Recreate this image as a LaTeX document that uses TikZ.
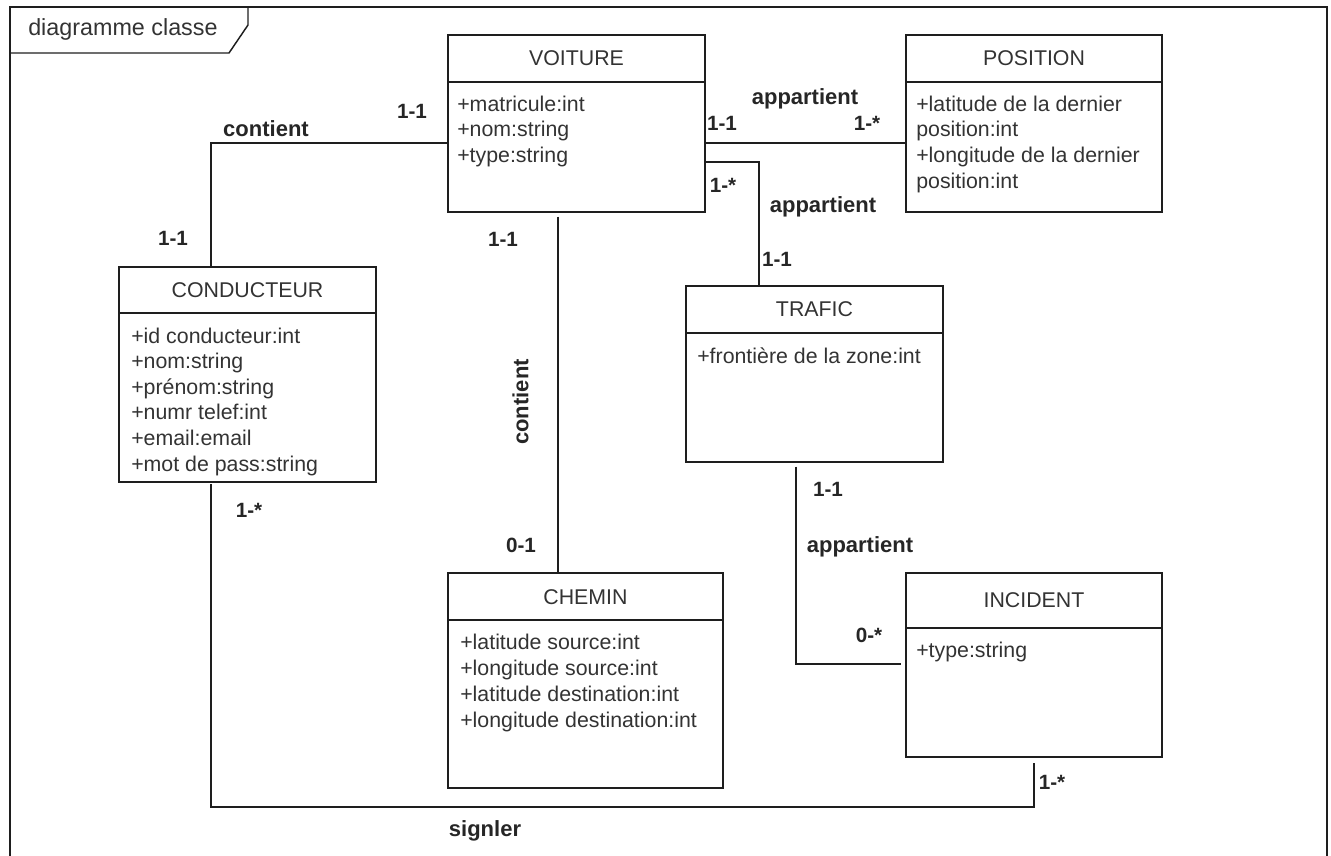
\documentclass[tikz,border=0pt]{standalone}
\usepackage{fontspec}
\setmainfont{Liberation Sans}
\usetikzlibrary{fit}

\definecolor{umlgray}{RGB}{51,51,51}
\definecolor{umlline}{RGB}{30,30,30}
\newcommand{\clsfont}{\fontsize{16}{19}\selectfont}
\newcommand{\lblfont}{\fontsize{16.5}{19}\selectfont\bfseries}
\newcommand{\mulfont}{\fontsize{15.5}{18}\selectfont\bfseries}

\tikzset{
  classbox/.style={draw=umlline, line width=1.1pt, inner sep=0pt},
  classline/.style={draw=umlline, line width=1.1pt},
  assoc/.style={draw=umlline, line width=1.1pt},
  clsname/.style={anchor=center, inner sep=0pt, text height=11.5pt, text depth=0pt, font=\clsfont, text=umlgray},
  attr/.style={anchor=west, inner sep=0pt, text height=11pt, text depth=3.5pt, font=\clsfont, text=umlgray},
  rolename/.style={anchor=center, inner sep=0pt, text height=11.5pt, text depth=3.5pt, font=\lblfont, text=black!85},
  mult/.style={anchor=center, inner sep=0pt, text height=11pt, text depth=0pt, font=\mulfont, text=black!85},
}

\begin{document}
\begin{tikzpicture}[x=0.75pt,y=0.75pt,yscale=-1,xscale=1]
\useasboundingbox (0,0) rectangle (1331,856);

%Frame
\draw [classline] (10,860) -- (10,7) -- (1327,7) -- (1327,860) ;
\draw [classline] (10,53) -- (229,53) -- (248,25) -- (248,7) ;
% Text Node
\draw (27,29) node [anchor=west][inner sep=0.75pt] (frametitle) {\fontsize{17.5}{20}\selectfont\color{umlgray}diagramme classe};

%Class: VOITURE
\node [classbox, fit={(448,35) (705,212)}] (voiture) {};
\draw [classline] (448,82) -- (705,82) ;
\draw (576.5,58) node [clsname] (v-name) {VOITURE};
\draw (457,107) node [attr] (v-a1) {+matricule:int};
\draw (457,132) node [attr] (v-a2) {+nom:string};
\draw (457,157) node [attr] (v-a3) {+type:string};

%Class: POSITION
\node [classbox, fit={(906,35) (1162,212)}] (position) {};
\draw [classline] (906,82) -- (1162,82) ;
\draw (1034,58) node [clsname] (p-name) {POSITION};
\draw (916,106) node [attr] (p-a1) {+latitude de la dernier};
\draw (916,132) node [attr] (p-a2) {position:int};
\draw (916,157) node [attr] (p-a3) {+longitude de la dernier};
\draw (916,183) node [attr] (p-a4) {position:int};

%Class: CONDUCTEUR
\node [classbox, fit={(119,267) (376,482)}] (conducteur) {};
\draw [classline] (119,313) -- (376,313) ;
\draw (247.5,290) node [clsname] (c-name) {CONDUCTEUR};
\draw (131,338) node [attr] (c-a1) {+id conducteur:int};
\draw (131,363) node [attr] (c-a2) {+nom:string};
\draw (131,389) node [attr] (c-a3) {+prénom:string};
\draw (131,414) node [attr] (c-a4) {+numr telef:int};
\draw (131,440) node [attr] (c-a5) {+email:email};
\draw (131,466) node [attr] (c-a6) {+mot de pass:string};

%Class: TRAFIC
\node [classbox, fit={(686,286) (943,462)}] (trafic) {};
\draw [classline] (686,333) -- (943,333) ;
\draw (814.5,309) node [clsname] (t-name) {TRAFIC};
\draw (697,358) node [attr] (t-a1) {+frontière de la zone:int};

%Class: CHEMIN
\node [classbox, fit={(448,573) (723,788)}] (chemin) {};
\draw [classline] (448,620) -- (723,620) ;
\draw (585.5,597) node [clsname] (ch-name) {CHEMIN};
\draw (460,644) node [attr] (ch-a1) {+latitude source:int};
\draw (460,670) node [attr] (ch-a2) {+longitude source:int};
\draw (460,696) node [attr] (ch-a3) {+latitude destination:int};
\draw (460,722) node [attr] (ch-a4) {+longitude destination:int};

%Class: INCIDENT
\node [classbox, fit={(906,573) (1162,757)}] (incident) {};
\draw [classline] (906,628) -- (1162,628) ;
\draw (1034,600) node [clsname] (i-name) {INCIDENT};
\draw (916,652) node [attr] (i-a1) {+type:string};

%Bends of the associations
\coordinate (bendcv) at (211,143);
\coordinate (vpos) at (800,143);
\coordinate (bendvt) at (759,162);
\coordinate (vch) at (558,400);
\coordinate (bendti) at (796,664);
\coordinate (bendcl) at (211,807);
\coordinate (bendci) at (1034,807);

%Associations
\draw [assoc] (voiture.west |- bendcv) -- (bendcv) -- (conducteur.north -| bendcv) ;
\draw [assoc] (voiture.east |- vpos) -- (position.west |- vpos) ;
\draw [assoc] (voiture.east |- bendvt) -- (bendvt) -- (trafic.north -| bendvt) ;
\draw [assoc, shorten <=3pt] (voiture.south -| vch) -- (chemin.north -| vch) ;
\draw [assoc, shorten <=3pt, shorten >=3pt] (trafic.south -| bendti) -- (bendti) -- (incident.west |- bendti) ;
\draw [assoc, shorten <=1pt, shorten >=4pt] (conducteur.south -| bendcl) -- (bendcl) -- (bendci) -- (incident.south -| bendci) ;

% Text Node
\draw (266,131) node [rolename] (lbl-cv) {contient};
\draw (412,111) node [mult] (m-cv1) {1-1};
\draw (173,238) node [mult] (m-cv2) {1-1};
% Text Node
\draw (805,99) node [rolename] (lbl-vp) {appartient};
\draw (722,123) node [mult] (m-vp1) {1-1};
\draw (867,123) node [mult] (m-vp2) {1-*};
% Text Node
\draw (823,207) node [rolename] (lbl-vt) {appartient};
\draw (723,185) node [mult] (m-vt1) {1-*};
\draw (777,259) node [mult] (m-vt2) {1-1};
% Text Node
\draw (523,402) node [rolename, rotate=90] (lbl-vch) {contient};
\draw (503,239) node [mult] (m-vch1) {1-1};
\draw (521,545) node [mult] (m-vch2) {0-1};
% Text Node
\draw (860,547) node [rolename] (lbl-ti) {appartient};
\draw (828,489) node [mult] (m-ti1) {1-1};
\draw (869,635) node [mult] (m-ti2) {0-*};
% Text Node
\draw (485,831) node [rolename] (lbl-ci) {signler};
\draw (249,510) node [mult] (m-ci1) {1-*};
\draw (1052,782) node [mult] (m-ci2) {1-*};

\end{tikzpicture}
\end{document}
